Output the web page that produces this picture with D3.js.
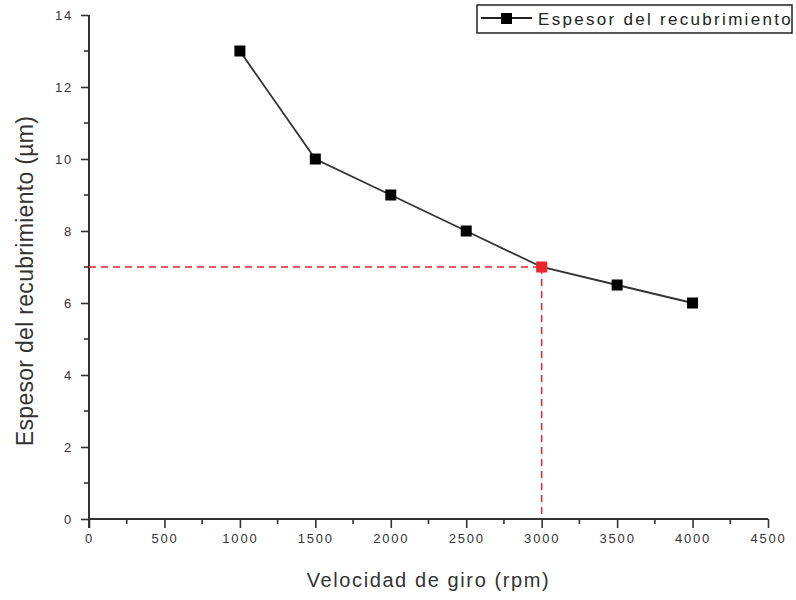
<!DOCTYPE html>
<html>
<head>
<meta charset="utf-8">
<script src="https://cdn.jsdelivr.net/npm/d3@7"></script>
<style>
  html, body { margin: 0; padding: 0; background: #fff; }
  svg { display: block; font-family: "Liberation Sans", Arial, sans-serif; }
  .tick text { fill: #333; font-size: 13px; letter-spacing: 1.8px; }
</style>
</head>
<body>
<div id="chart"></div>
<script>
// data
const speeds    = [1000, 1500, 2000, 2500, 3000, 3500, 4000];
const thickness = [13, 10, 9, 8, 7, 6.5, 6];
const highlightSpeed = 3000;
const xTicks = [0, 500, 1000, 1500, 2000, 2500, 3000, 3500, 4000, 4500];
const yTicks = [0, 2, 4, 6, 8, 10, 12, 14];
const seriesName = "Espesor del recubrimiento";
const xTitle = "Velocidad de giro (rpm)";
const yTitle = "Espesor del recubrimiento (µm)";

const W = 796, H = 600;
const M = { t: 15, r: 28, b: 81, l: 89 };
const w = W - M.l - M.r, h = H - M.t - M.b;

const svg = d3.select("#chart").append("svg").attr("width", W).attr("height", H);
const g = svg.append("g").attr("transform", `translate(${M.l},${M.t})`);

const x = d3.scaleLinear().domain([0, 4500]).range([0, w]);
const y = d3.scaleLinear().domain([0, 14]).range([h, 0]);

const points = speeds.map((s, i) => ({ s, v: thickness[i] }));

// minor ticks
g.append("g").selectAll("line")
  .data(d3.range(250, 4500, 500))
  .join("line")
  .attr("x1", d => x(d)).attr("x2", d => x(d))
  .attr("y1", h).attr("y2", h + 5)
  .attr("stroke", "#333").attr("stroke-width", 1.6);
g.append("g").selectAll("line")
  .data(d3.range(1, 14, 2))
  .join("line")
  .attr("x1", -5).attr("x2", 0)
  .attr("y1", d => y(d)).attr("y2", d => y(d))
  .attr("stroke", "#333").attr("stroke-width", 1.6);

// axes
const xAxis = g.append("g")
  .attr("transform", `translate(0,${h})`)
  .call(d3.axisBottom(x).tickValues(xTicks).tickSize(9).tickPadding(6).tickFormat(d3.format("d")));
const yAxis = g.append("g")
  .call(d3.axisLeft(y).tickValues(yTicks).tickSize(8).tickPadding(8).tickFormat(d3.format("d")));
[xAxis, yAxis].forEach(a => {
  a.select(".domain").attr("stroke", "#333").attr("stroke-width", 2);
  a.selectAll(".tick line").attr("stroke", "#333").attr("stroke-width", 1.6);
});
xAxis.select(".domain").attr("d", `M0,0H${w}`);
yAxis.select(".domain").attr("d", `M0,${h + 9}V0`);

// red guide lines
const hp = points.find(p => p.s === highlightSpeed);
g.append("line")
  .attr("x1", 0).attr("x2", x(hp.s))
  .attr("y1", y(hp.v)).attr("y2", y(hp.v))
  .attr("stroke", "#e8262e").attr("stroke-width", 1.5).attr("stroke-dasharray", "7,5");
g.append("line")
  .attr("x1", x(hp.s)).attr("x2", x(hp.s))
  .attr("y1", y(hp.v)).attr("y2", h)
  .attr("stroke", "#e8262e").attr("stroke-width", 1.5).attr("stroke-dasharray", "7,5");

// series line
const line = d3.line().x(d => x(d.s)).y(d => y(d.v));
g.append("path")
  .datum(points)
  .attr("fill", "none")
  .attr("stroke", "#333")
  .attr("stroke-width", 1.8)
  .attr("d", line);

const ms = 11;
g.append("g").selectAll("rect")
  .data(points)
  .join("rect")
  .attr("x", d => x(d.s) - ms / 2)
  .attr("y", d => y(d.v) - ms / 2)
  .attr("width", ms).attr("height", ms)
  .attr("fill", d => d.s === highlightSpeed ? "#e8262e" : "#000");

// axis titles
svg.append("text")
  .attr("x", M.l + x(2250)).attr("y", 587)
  .attr("text-anchor", "middle")
  .style("font-size", "20px").style("letter-spacing", "1.6px").attr("fill", "#333")
  .text(xTitle);
svg.append("text")
  .attr("transform", `translate(33,${281}) rotate(-90)`)
  .attr("text-anchor", "middle")
  .style("font-size", "23px").style("letter-spacing", "0.3px").attr("fill", "#333")
  .text(yTitle);

// legend
const lg = svg.append("g").attr("transform", "translate(477,5)");
lg.append("rect")
  .attr("width", 315).attr("height", 28)
  .attr("fill", "#fff").attr("stroke", "#222").attr("stroke-width", 1.5);
lg.append("line")
  .attr("x1", 4).attr("x2", 55).attr("y1", 13).attr("y2", 13)
  .attr("stroke", "#222").attr("stroke-width", 1.8);
lg.append("rect")
  .attr("x", 24).attr("y", 8).attr("width", 11).attr("height", 11).attr("fill", "#000");
lg.append("text")
  .attr("x", 61).attr("y", 14).attr("dy", "0.35em")
  .style("font-size", "17px").style("letter-spacing", "2.3px").attr("fill", "#222")
  .text(seriesName);
</script>
</body>
</html>
